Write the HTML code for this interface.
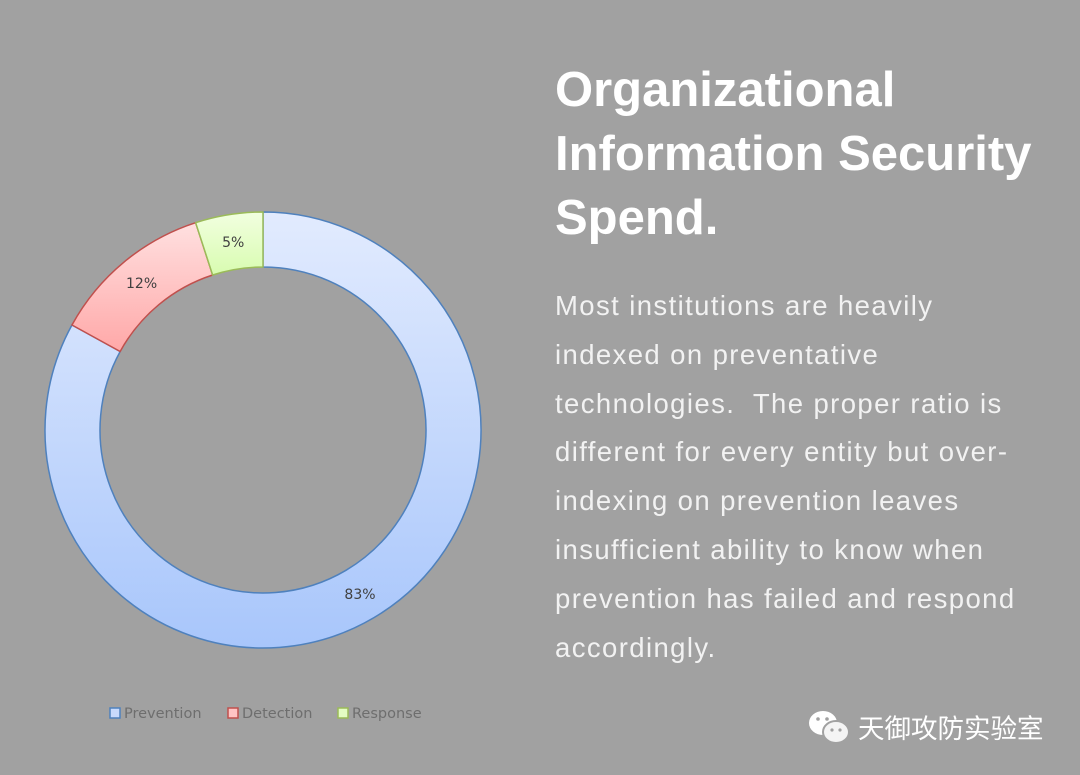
<!DOCTYPE html>
<html><head><meta charset="utf-8"><style>
body{margin:0;width:1080px;height:775px;background:#a1a1a1;position:relative;overflow:hidden;font-family:"Liberation Sans",sans-serif}
#title{position:absolute;left:555px;top:58px;color:#fff;font-weight:bold;font-size:49px;line-height:64px;letter-spacing:0px;white-space:nowrap}
#body{position:absolute;left:555px;top:282px;width:525px;color:#f2f2f2;font-size:27.5px;line-height:48.8px;letter-spacing:1.4px;white-space:nowrap}
#wm{position:absolute;left:808px;top:707px;color:#fff;font-size:26.5px;font-family:"Liberation Sans","Noto Sans CJK SC",sans-serif;display:flex;align-items:center;gap:6px}
</style></head><body>
<svg id="chart" width="540" height="775" style="position:absolute;left:0;top:0">
<defs>
<linearGradient id="g0" x1="0" y1="0" x2="0" y2="1"><stop offset="0" stop-color="#e2ebfe"/><stop offset="1" stop-color="#a8c6fb"/></linearGradient>
<linearGradient id="g1" x1="0" y1="0" x2="0" y2="1"><stop offset="0" stop-color="#ffe0e0"/><stop offset="1" stop-color="#ffa8a8"/></linearGradient>
<linearGradient id="g2" x1="0" y1="0" x2="0" y2="1"><stop offset="0" stop-color="#f2ffe0"/><stop offset="1" stop-color="#d8fcb0"/></linearGradient>
</defs>
</svg>
<div id="title">Organizational<br>Information Security<br>Spend.</div>
<div id="body">Most institutions are heavily<br>indexed on preventative<br>technologies.&nbsp; The proper ratio is<br>different for every entity but over-<br>indexing on prevention leaves<br>insufficient ability to know when<br>prevention has failed and respond<br>accordingly.</div>
<div id="wm"><svg width="44" height="36" viewBox="0 0 44 36"><ellipse cx="15" cy="14" rx="14" ry="12" fill="#fff"/><ellipse cx="28" cy="23" rx="13" ry="11" fill="#f4f4f4" stroke="#a1a1a1" stroke-width="2"/><circle cx="10" cy="10" r="1.8" fill="#a1a1a1"/><circle cx="19" cy="10" r="1.8" fill="#a1a1a1"/><circle cx="24" cy="21" r="1.6" fill="#a1a1a1"/><circle cx="32" cy="21" r="1.6" fill="#a1a1a1"/></svg><span>天御攻防实验室</span></div>
<script>
const categories=["Prevention","Detection","Response"];
const values=[83,12,5];
const labels=["83%","12%","5%"];
const fills=["url(#g0)","url(#g1)","url(#g2)"];
const strokes=["#4f81bd","#c0504d","#9bbb59"];
const legFill=["#c9dafc","#ffc4c4","#e4fcc4"];
const svg=document.getElementById('chart');
const NS="http://www.w3.org/2000/svg";
const cx=263,cy=430,R=218,r=163;
const total=values.reduce((a,b)=>a+b,0);
function pt(a,rad){return [cx+rad*Math.sin(a),cy-rad*Math.cos(a)];}
let acc=0;
values.forEach((v,i)=>{
 const a0=acc/total*2*Math.PI; acc+=v; const a1=acc/total*2*Math.PI;
 const lg=(a1-a0)>Math.PI?1:0;
 const [x0,y0]=pt(a0,R),[x1,y1]=pt(a1,R),[x2,y2]=pt(a1,r),[x3,y3]=pt(a0,r);
 const p=document.createElementNS(NS,'path');
 p.setAttribute('d',`M${x0},${y0}A${R},${R} 0 ${lg} 1 ${x1},${y1}L${x2},${y2}A${r},${r} 0 ${lg} 0 ${x3},${y3}Z`);
 p.setAttribute('fill',fills[i]);p.setAttribute('stroke',strokes[i]);p.setAttribute('stroke-width','1.5');
 
 
 svg.appendChild(p);
 const [lx,ly]=pt((a0+a1)/2,(R+r)/2);
 const t=document.createElementNS(NS,'text');
 t.setAttribute('x',lx);t.setAttribute('y',ly+5);t.setAttribute('text-anchor','middle');
 t.setAttribute('font-size','14');t.setAttribute('fill','#404040');t.setAttribute('font-family','DejaVu Sans, sans-serif');
 t.textContent=labels[i];
 
 
 svg.appendChild(t);
});
const lx=[110,228,338];
categories.forEach((c,i)=>{
 const g=document.createElementNS(NS,'g');
 
 
 const s=document.createElementNS(NS,'rect');
 s.setAttribute('x',lx[i]);s.setAttribute('y',708);s.setAttribute('width',10);s.setAttribute('height',10);
 s.setAttribute('fill',legFill[i]);s.setAttribute('stroke',strokes[i]);s.setAttribute('stroke-width','1.5');
 g.appendChild(s);
 const t=document.createElementNS(NS,'text');
 t.setAttribute('x',lx[i]+14);t.setAttribute('y',718);t.setAttribute('font-size','14.5');t.setAttribute('fill','#6e6e6e');t.setAttribute('font-family','DejaVu Sans, sans-serif');
 t.textContent=c;g.appendChild(t);
 svg.appendChild(g);
});
</script>
</body></html>
